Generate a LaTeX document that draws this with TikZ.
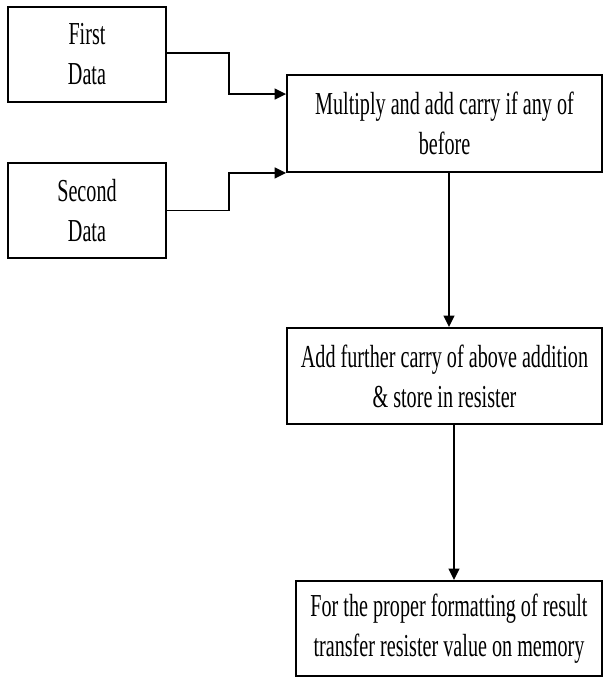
\documentclass[tikz,border=0pt]{standalone}
\usepackage{fontspec}
\setmainfont[FakeStretch=0.63]{Liberation Serif}
\usetikzlibrary{arrows.meta,calc}
\tikzset{
  box/.style={draw=black, line width=1.4pt, rectangle, inner sep=0pt, align=center,
    font=\fontsize{24pt}{30pt}\selectfont},
  arr/.style={draw=black, line width=1.4pt, -{Triangle[length=8.5pt,width=8pt]}},
}
\begin{document}
\begin{tikzpicture}[x=0.75pt,y=-0.75pt]
\useasboundingbox (0,0) rectangle (604,677);
\node[box, minimum width=158*0.75pt, minimum height=95*0.75pt] (b1) at (87,54.5) {First\\Data};
\node[box, minimum width=158*0.75pt, minimum height=95*0.75pt] (b2) at (87,210.5) {Second\\Data};
\node[box, minimum width=315*0.75pt, minimum height=97*0.75pt] (b3) at (444.5,123.5) {Multiply and add carry if any of\\before};
\node[box, minimum width=315*0.75pt, minimum height=96*0.75pt] (b4) at (444.5,376) {Add further carry of above addition\\\& store in resister};
\node[box, minimum width=306*0.75pt, minimum height=95*0.75pt] (b5) at (449,628.5) {For the proper formatting of result\\transfer resister value on memory};
\coordinate (e1) at ($(b1.east)+(0,-1.5)$);
\draw[arr] (e1) -- ++(62,0) |- ($(b3.north west)+(0,20)$);
\draw[arr] (b2.east) -- ++(62,0) |- (b3.south west);
\coordinate (s3) at ($(b3.south)+(4.5,0)$);
\draw[arr] (s3) -- (s3 |- b4.north);
\coordinate (s4) at ($(b4.south)+(9.5,0)$);
\draw[arr] (s4) -- (s4 |- b5.north);
\end{tikzpicture}
\end{document}
